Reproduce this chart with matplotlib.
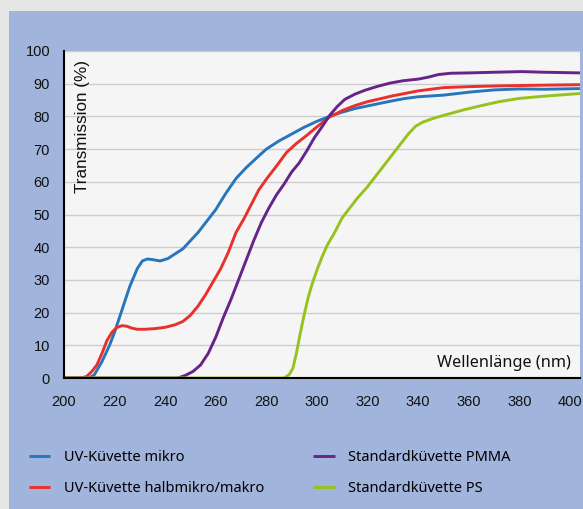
import matplotlib.pyplot as plt
from matplotlib.patches import Rectangle

# wavelength (nm) / transmission (%)
nm_mikro = [200, 210, 212, 215, 218, 220, 223, 226, 229, 231, 233, 235, 238, 241, 244, 247, 250, 253, 256, 260,
            264, 268, 272, 276, 280, 285, 290, 295, 300, 305, 310, 315, 320, 325, 330, 335, 340, 350, 360, 370,
            380, 390, 404]
tr_mikro = [0, 0, 1, 5, 10, 14, 21, 28, 33.5, 35.8, 36.4, 36.2, 35.8, 36.5, 38, 39.5, 42, 44.5, 47.5, 51.5,
            56.5, 61, 64.3, 67.2, 70, 72.5, 74.6, 76.7, 78.5, 80, 81.3, 82.4, 83.2, 84, 84.8, 85.5, 86, 86.5, 87.4, 88.1,
            88.4, 88.3, 88.5]

nm_halb = [200, 207, 209, 211, 213, 215, 217, 219, 221, 223, 225, 227, 229, 232, 236, 240, 244, 247, 250, 253,
           256, 259, 262, 265, 268, 271, 274, 277, 280, 284, 288, 292, 296, 300, 305, 310, 315, 320, 330, 340,
           350, 360, 370, 385, 404]
tr_halb = [0, 0, 0.5, 2, 4, 7.5, 11.5, 14, 15.5, 16, 15.8, 15.2, 14.9, 14.9, 15.1, 15.5, 16.3, 17.3, 19.2, 22,
           25.5, 29.5, 33.5, 38.5, 44.5, 48.5, 53, 57.5, 60.8, 64.8, 69, 71.8, 74.2, 76.8, 79.8, 81.8, 83.3, 84.5, 86.3, 87.8,
           88.8, 89.1, 89.3, 89.5, 89.7]

nm_pmma = [200, 245, 248, 251, 254, 257, 260, 263, 266, 269, 272, 275, 278, 281, 284, 287, 290, 293, 296, 299,
           302, 305, 308, 311, 315, 319, 324, 329, 334, 340, 344, 348, 353, 360, 370, 381, 390, 404]
tr_pmma = [0, 0, 0.8, 2, 4, 7.5, 12.5, 18.5, 24, 30, 36, 42, 47.5, 52, 56, 59.3, 63, 65.8, 69.5, 73.5,
           76.8, 80.3, 83, 85.2, 86.8, 88, 89.2, 90.2, 90.9, 91.4, 92, 92.8, 93.2, 93.3, 93.5, 93.7, 93.5, 93.3]

nm_ps = [200, 287, 289, 290.5, 292, 293.5, 295, 296.5, 298, 300, 302, 304, 307, 310, 313, 316, 320, 324, 328, 332,
         336, 339, 342, 346, 350, 358, 365, 372, 380, 390, 404]
tr_ps = [0, 0, 1, 3, 8, 14, 19.5, 24.5, 28.5, 33, 37, 40.5, 44.5, 49, 52, 55, 58.5, 62.5, 66.5, 70.5,
         74.5, 77, 78.3, 79.4, 80.3, 82, 83.3, 84.5, 85.5, 86.2, 87]

labels = ["UV-Küvette mikro", "UV-Küvette halbmikro/makro", "Standardküvette PMMA", "Standardküvette PS"]
colors = ["#2676bd", "#e8302c", "#66248a", "#96c21e"]

fig = plt.figure(figsize=(5.83, 5.09), dpi=100, facecolor="#e6e6e6")
fig.patches.append(Rectangle((9 / 583, 0), 1, 1 - 11 / 509, transform=fig.transFigure,
                             facecolor="#a1b4dc", edgecolor="none", zorder=-5))

ax = fig.add_axes([64 / 583, 1 - 378 / 509, 516 / 583, 327 / 509])
ax.set_zorder(2)
ax.set_facecolor("#f5f5f5")

series = [(nm_mikro, tr_mikro), (nm_halb, tr_halb), (nm_pmma, tr_pmma), (nm_ps, tr_ps)]
for (xs, ys), lab, col in zip(series, labels, colors):
    ax.plot(xs, ys, color=col, lw=2.1, label=lab, solid_capstyle="butt")

ax.set_xlim(200, 404)
ax.set_ylim(0, 100)
ax.set_xticks(range(200, 401, 20))
ax.set_yticks(range(0, 101, 10))
ax.grid(axis="y", color="#cdcdcd", lw=1)
ax.set_axisbelow(True)
for s in ["top", "right"]:
    ax.spines[s].set_visible(False)
for s in ["left", "bottom"]:
    ax.spines[s].set_linewidth(1.5)
    ax.spines[s].set_color("black")
ax.tick_params(length=0)
ax.tick_params(axis="y", pad=10)
ax.tick_params(axis="x", pad=12)
for t in ax.get_xticklabels() + ax.get_yticklabels():
    t.set_fontfamily("Liberation Sans")
    t.set_fontsize(10.5)
    t.set_color("#111111")

ax.text(0.035, 0.972, "Transmission (%)", transform=ax.transAxes, rotation=90, ha="center", va="top",
        fontsize=12.3, family="Liberation Sans", color="#111111")
ax.text(0.983, 0.046, "Wellenlänge (nm)", transform=ax.transAxes, ha="right", va="center",
        fontsize=11.7, family="Noto Sans", color="#111111")

fig.legend(loc="upper left", bbox_to_anchor=(22 / 583, 1 - 443 / 509), ncol=2, frameon=False,
           prop={"family": "Noto Sans", "size": 10.5}, handlelength=1.45, handletextpad=0.95,
           columnspacing=3.35, labelspacing=1.05, borderpad=0)

fig.savefig("out.png", dpi=100, facecolor=fig.get_facecolor())
